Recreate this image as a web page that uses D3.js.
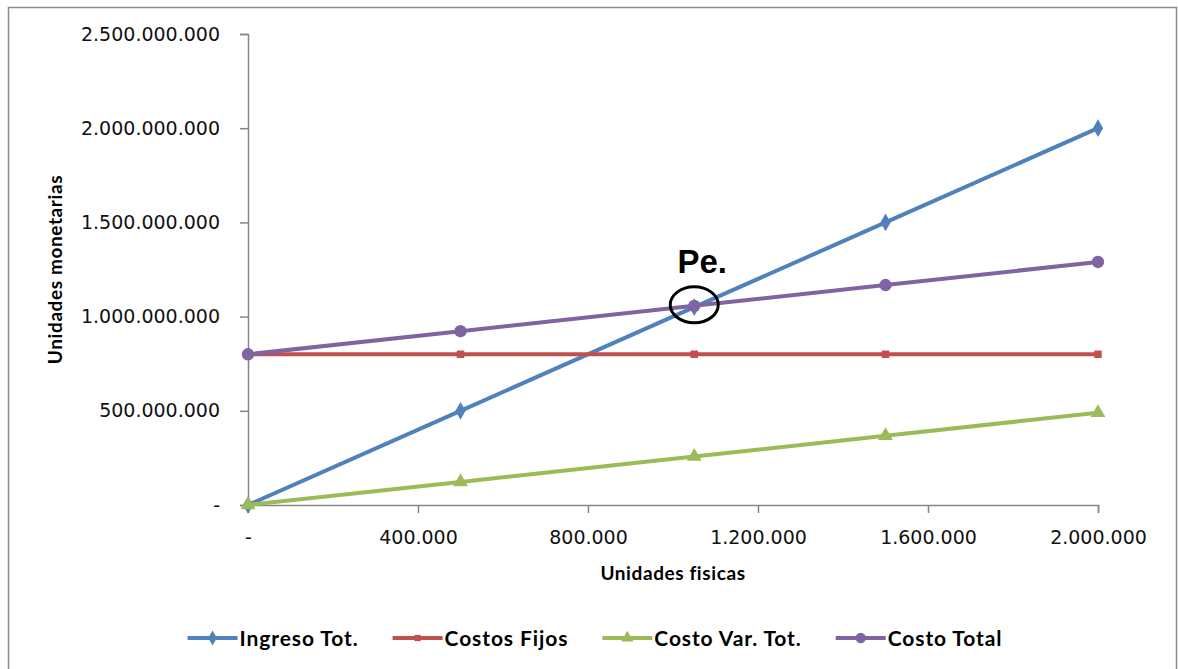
<!DOCTYPE html>
<html>
<head>
<meta charset="utf-8">
<script src="https://cdn.jsdelivr.net/npm/d3@7"></script>
<style>
  html, body { margin: 0; padding: 0; background: #fff; }
  svg { display: block; }
</style>
</head>
<body>
<svg id="chart" width="1178" height="669"></svg>
<script>
// Units produced/sold (x values)
const units = [0, 500000, 1050000, 1500000, 2000000];
// Series values in monetary units
const ingresoTot   = [0, 500000000, 1050000000, 1500000000, 2000000000];
const costosFijos  = [800000000, 800000000, 800000000, 800000000, 800000000];
const costoVarTot  = [0, 122500000, 257250000, 367500000, 490000000];
const costoTotal   = [800000000, 922500000, 1057250000, 1167500000, 1290000000];
const seriesNames  = ["Ingreso Tot.", "Costos Fijos", "Costo Var. Tot.", "Costo Total"];
// Axis ticks
const xTicks = [0, 400000, 800000, 1200000, 1600000, 2000000];
const yTicks = [0, 500000000, 1000000000, 1500000000, 2000000000, 2500000000];
// Break-even point
const breakEvenUnits = 1050000;
const breakEvenValue = 1057250000;

const colors = ["#4F81BD", "#C0504D", "#9BBB59", "#8064A2"];
const symbols = [d3.symbolDiamond, d3.symbolSquare, d3.symbolTriangle, d3.symbolCircle];
const symSizes = [90, 56, 95, 120];

const locale = d3.formatLocale({ decimal: ",", thousands: ".", grouping: [3], currency: ["$", ""] });
const fmt = v => v === 0 ? "-" : locale.format(",")(v);

const svg = d3.select("#chart");

// outer frame
svg.append("rect")
  .attr("x", 8.5).attr("y", 7.5).attr("width", 1168).attr("height", 672)
  .attr("fill", "#fff").attr("stroke", "#8c8c8c").attr("stroke-width", 1.5);

const x = d3.scaleLinear().domain([0, 2000000]).range([248, 1098]);
const y = d3.scaleLinear().domain([0, 2500000000]).range([505, 34]);

const axisColor = "#868686";
const tickFont = "'DejaVu Sans', sans-serif";

// Y axis
const gy = svg.append("g").attr("transform", `translate(${x(0)},0)`)
  .call(d3.axisLeft(y).tickValues(yTicks).tickFormat(fmt).tickSizeOuter(0).tickSize(8).tickPadding(20));
gy.select(".domain").attr("stroke", axisColor).attr("stroke-width", 1.5);
gy.selectAll(".tick line").attr("stroke", axisColor).attr("stroke-width", 1.5);
gy.selectAll(".tick text").attr("font-family", tickFont).attr("font-size", 19).attr("fill", "#111");

// X axis
const gx = svg.append("g").attr("transform", `translate(0,${y(0)})`)
  .call(d3.axisBottom(x).tickValues(xTicks).tickFormat(fmt).tickSizeOuter(0).tickSize(8).tickPadding(18));
gx.select(".domain").attr("stroke", axisColor).attr("stroke-width", 1.5);
gx.selectAll(".tick line").attr("stroke", axisColor).attr("stroke-width", 1.5);
gx.selectAll(".tick text").attr("font-family", tickFont).attr("font-size", 19).attr("fill", "#111");

// Axis titles
const titleFont = "Lato, 'Open Sans', sans-serif";
svg.append("text")
  .attr("x", (x.range()[0] + x.range()[1]) / 2).attr("y", 580)
  .attr("text-anchor", "middle")
  .attr("font-family", titleFont).attr("font-weight", "bold").attr("font-size", 19)
  .attr("letter-spacing", 0.6)
  .text("Unidades  fisicas");
svg.append("text")
  .attr("transform", `translate(62,${(y.range()[0] + y.range()[1]) / 2}) rotate(-90)`)
  .attr("text-anchor", "middle")
  .attr("font-family", titleFont).attr("font-weight", "bold").attr("font-size", 19)
  .attr("letter-spacing", 0.6)
  .text("Unidades  monetarias");

// Series lines and markers
const allSeries = [ingresoTot, costosFijos, costoVarTot, costoTotal];
const line = d3.line().x(d => x(d[0])).y(d => y(d[1]));
allSeries.forEach((vals, i) => {
  const pts = units.map((u, j) => [u, vals[j]]);
  svg.append("path")
    .attr("d", line(pts))
    .attr("fill", "none").attr("stroke", colors[i]).attr("stroke-width", 4)
    .attr("stroke-linejoin", "round");
  svg.append("g").selectAll("path").data(pts).join("path")
    .attr("transform", d => `translate(${x(d[0])},${y(d[1])})`)
    .attr("d", d3.symbol().type(symbols[i]).size(symSizes[i]))
    .attr("fill", colors[i]);
});

// Break-even annotation
svg.append("ellipse")
  .attr("cx", x(breakEvenUnits)).attr("cy", y(breakEvenValue) - 1)
  .attr("rx", 24).attr("ry", 18)
  .attr("fill", "none").attr("stroke", "#000").attr("stroke-width", 3);
svg.append("text")
  .attr("x", x(breakEvenUnits) + 8).attr("y", y(breakEvenValue) - 33)
  .attr("text-anchor", "middle")
  .attr("font-family", "'Liberation Sans', Arial, sans-serif").attr("font-weight", "bold").attr("font-size", 33)
  .text("Pe.");

// Legend
const legend = svg.append("g");
const items = legend.selectAll("g").data(seriesNames).join("g");
items.append("line")
  .attr("x1", 0).attr("x2", 50).attr("y1", 0).attr("y2", 0)
  .attr("stroke", (d, i) => colors[i]).attr("stroke-width", 4);
items.append("path")
  .attr("transform", "translate(25,0)")
  .attr("d", (d, i) => d3.symbol().type(symbols[i]).size(symSizes[i] * 0.7)())
  .attr("fill", (d, i) => colors[i]);
items.append("text")
  .attr("x", 52).attr("y", 8)
  .attr("font-family", titleFont).attr("font-weight", "bold").attr("font-size", 21)
  .attr("letter-spacing", 0.9)
  .text(d => d);
let cx = 0;
const widths = [];
items.each(function () {
  const w = 52 + d3.select(this).select("text").node().getComputedTextLength();
  widths.push(w);
});
const gap = 34;
const total = d3.sum(widths) + gap * (widths.length - 1);
let start = 595 - total / 2;
items.attr("transform", (d, i) => {
  const t = `translate(${start},638)`;
  start += widths[i] + gap;
  return t;
});
</script>
</body>
</html>
